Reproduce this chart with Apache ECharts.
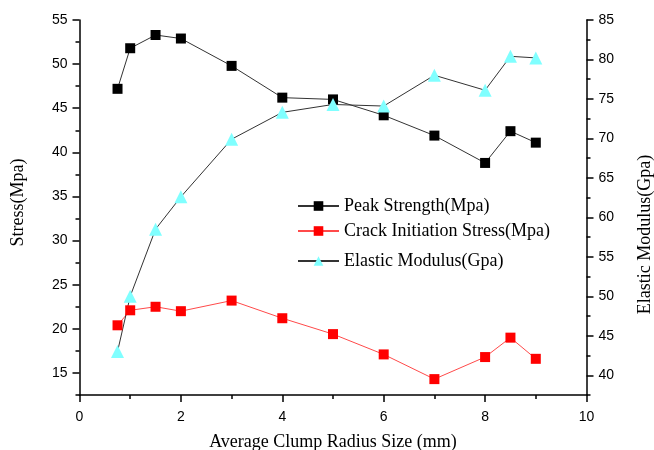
<!DOCTYPE html>
<html>
<head>
<meta charset="utf-8">
<script src="https://cdn.jsdelivr.net/npm/echarts@6/dist/echarts.min.js"></script>
<style>
  html, body { margin: 0; padding: 0; background: #fff; }
  #chart { width: 654px; height: 450px; }
</style>
</head>
<body>
<div id="chart"></div>
<script>
// Average clump radius (mm)
const radius = [0.75, 1, 1.5, 2, 3, 4, 5, 6, 7, 8, 8.5, 9];
// Peak strength (MPa)
const peakStrength = [47.2, 51.8, 53.3, 52.9, 49.8, 46.2, 46.0, 44.2, 41.9, 38.8, 42.4, 41.1];
// Crack initiation stress (MPa)
const crackStress = [20.4, 22.1, 22.5, 22.0, 23.2, 21.2, 19.4, 17.1, 14.3, 16.8, 19.0, 16.6];
// Elastic modulus (GPa)
const elasticModulus = [43.0, 50.0, 58.5, 62.6, 69.9, 73.3, 74.3, 74.1, 78.0, 76.1, 80.4, 80.2];

// Axis tick values
const stressTicks = [15, 20, 25, 30, 35, 40, 45, 50, 55];
const stressMinorTicks = [12.5, 17.5, 22.5, 27.5, 32.5, 37.5, 42.5, 47.5, 52.5];
const modulusTicks = [40, 45, 50, 55, 60, 65, 70, 75, 80, 85];
const modulusMinorTicks = [37.5, 42.5, 47.5, 52.5, 57.5, 62.5, 67.5, 72.5, 77.5, 82.5];

const seriesNames = ['Peak Strength(Mpa)', 'Crack Initiation Stress(Mpa)', 'Elastic Modulus(Gpa)'];

const pairs = (ys) => radius.map((x, i) => [x, ys[i]]);

const serif = 'Liberation Serif';
const sans = 'Liberation Sans';
const axisLine = { show: true, lineStyle: { color: '#000', width: 1.5 } };
const labelStyle = { color: '#000', fontFamily: sans, fontSize: 14 };
const nameStyle = { color: '#000', fontFamily: serif, fontSize: 18 };

const chart = echarts.init(document.getElementById('chart'), null, { renderer: 'canvas' });

function legendFor(name, top) {
  return {
    data: [name],
    left: 297,
    top: top,
    padding: 0,
    itemWidth: 41,
    itemHeight: 12,
    itemGap: 0,
    textStyle: { color: '#000', fontFamily: serif, fontSize: 18 }
  };
}

chart.setOption({
  animation: false,
  backgroundColor: '#fff',
  grid: { left: 79.5, right: 67.5, top: 20, bottom: 55, containLabel: false, outerBoundsMode: 'none' },
  legend: [
    legendFor(seriesNames[0], 197),
    legendFor(seriesNames[1], 222),
    legendFor(seriesNames[2], 252)
  ],
  xAxis: {
    type: 'value',
    min: 0,
    max: 10,
    interval: 2,
    name: 'Average Clump Radius Size (mm)',
    nameLocation: 'middle',
    nameGap: 38,
    nameTextStyle: nameStyle,
    axisLine: axisLine,
    axisTick: { show: true, length: 7, lineStyle: { color: '#000', width: 1.5 } },
    minorTick: { show: true, splitNumber: 2, length: 4, lineStyle: { color: '#000', width: 1.5 } },
    axisLabel: Object.assign({ margin: 15 }, labelStyle),
    splitLine: { show: false }
  },
  yAxis: [
    {
      type: 'value',
      position: 'left',
      min: 12.5,
      max: 55,
      name: 'Stress(Mpa)',
      nameLocation: 'middle',
      nameRotate: 90,
      nameGap: 52,
      nameTextStyle: Object.assign({ padding: [0, 0, 0, 10] }, nameStyle),
      axisLine: axisLine,
      axisTick: { show: true, length: 7, customValues: stressTicks, lineStyle: { color: '#000', width: 1.5 } },
      axisLabel: Object.assign({ margin: 12, customValues: stressTicks }, labelStyle),
      splitLine: { show: false }
    },
    {
      type: 'value',
      position: 'right',
      min: 37.5,
      max: 85,
      name: 'Elastic Modulus(Gpa)',
      nameLocation: 'middle',
      nameRotate: 90,
      nameGap: 50,
      nameTextStyle: Object.assign({ padding: [0, 54, 0, 0] }, nameStyle),
      axisLine: axisLine,
      axisTick: { show: true, length: 7, customValues: modulusTicks, lineStyle: { color: '#000', width: 1.5 } },
      axisLabel: Object.assign({ margin: 12, customValues: modulusTicks }, labelStyle),
      splitLine: { show: false }
    },
    {
      // short ticks between the labelled stress ticks
      type: 'value',
      position: 'left',
      min: 12.5,
      max: 55,
      axisLine: { show: false },
      axisTick: { show: true, length: 4, customValues: stressMinorTicks, lineStyle: { color: '#000', width: 1.5 } },
      axisLabel: { show: false },
      splitLine: { show: false }
    },
    {
      // short ticks between the labelled modulus ticks
      type: 'value',
      position: 'right',
      min: 37.5,
      max: 85,
      axisLine: { show: false },
      axisTick: { show: true, length: 4, customValues: modulusMinorTicks, lineStyle: { color: '#000', width: 1.5 } },
      axisLabel: { show: false },
      splitLine: { show: false }
    }
  ],
  series: [
    {
      name: seriesNames[0],
      type: 'line',
      yAxisIndex: 0,
      data: pairs(peakStrength),
      symbol: 'rect',
      symbolSize: 10,
      itemStyle: { color: '#000' },
      lineStyle: { color: '#333', width: 1 }
    },
    {
      name: seriesNames[1],
      type: 'line',
      yAxisIndex: 0,
      data: pairs(crackStress),
      symbol: 'rect',
      symbolSize: 10,
      itemStyle: { color: '#ff0000' },
      lineStyle: { color: '#ff4a4a', width: 1 }
    },
    {
      name: seriesNames[2],
      type: 'line',
      yAxisIndex: 1,
      data: pairs(elasticModulus),
      symbol: 'triangle',
      symbolSize: 13,
      itemStyle: { color: '#80ffff' },
      lineStyle: { color: '#333', width: 1 }
    }
  ]
});
</script>
</body>
</html>
